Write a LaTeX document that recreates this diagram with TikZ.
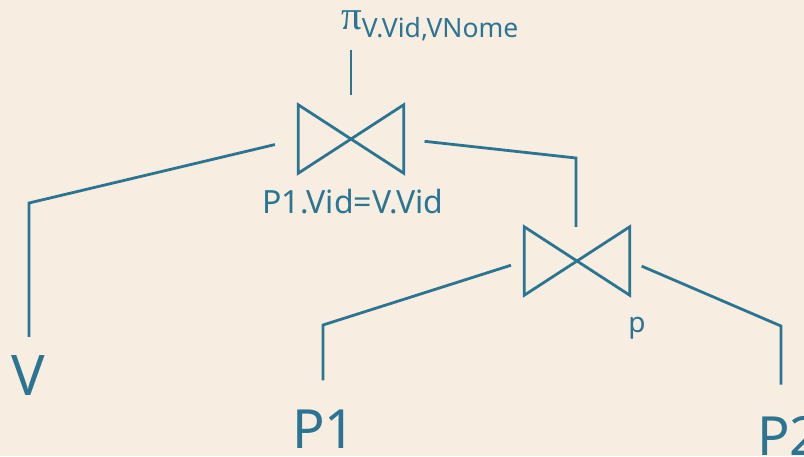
\documentclass[tikz,border=0pt]{standalone}
\usepackage{fontspec}
\setmainfont{Noto Sans}
\newfontfamily\greekfont{Liberation Serif}
\usetikzlibrary{positioning}
\definecolor{paper}{HTML}{F7EEE1}
\definecolor{ink}{HTML}{2B7593}

\begin{document}
\begin{tikzpicture}[
			x=1pt, y=-1pt,
			joinop/.style={minimum width=105pt, minimum height=68pt, inner sep=0pt},
			rel/.style={font=\fontsize{54}{54}\selectfont, text=ink, inner sep=0pt, anchor=base},
			cond/.style={font=\fontsize{32}{32}\selectfont, text=ink, inner sep=0pt, anchor=base},
			link/.style={draw=ink, line width=2.8pt}
			]
			\fill[paper] (0,0) rectangle (804,456);
			\useasboundingbox (0,0) rectangle (804,456);
			\clip (0,0) rectangle (804,456);
			
			\node[joinop] (j1) at (351,139) {};
			\node[joinop] (j2) at (577,261) {};
			\node[inner sep=0pt, anchor=base west, text=ink] (proj) at (341,29) {{\greekfont\fontsize{41}{41}\selectfont π}\raisebox{-8pt}{\fontsize{26.5}{26.5}\selectfont V.Vid,VNome}};
			\node[cond] (c1) at (353,213) {P1.Vid=V.Vid};
			\node[cond, font=\fontsize{28}{28}\selectfont] (c2) at (637,332) {p};
			\node[rel, font=\fontsize{56}{56}\selectfont] (v) at (28,395) {V};
			\node[rel] (p1) at (324,448) {P1};
			\node[rel, anchor=base west] (p2) at (757,455) {P2};
			
			\coordinate (kv) at (29,203);
			\coordinate (kj) at (576,158);
			\coordinate (kp1) at (323,325);
			\coordinate (kp2) at (781,326);
			
			\draw[link] (j1.north west) -- (j1.south east) -- (j1.north east) -- (j1.south west) -- cycle;
			\draw[link] (j2.north west) -- (j2.south east) -- (j2.north east) -- (j2.south west) -- cycle;
			
			\draw[link, shorten <=9pt, shorten >=10pt] (proj.south -| j1.north) -- (j1.north);
			\draw[link, shorten <=24pt, shorten >=18pt] (j1.west) -- (kv) -- (kv |- v.north);
			\draw[link, shorten <=21pt] (j1.east) -- (kj) -- (kj |- j2.north);
			\draw[link, shorten <=14pt, shorten >=29pt] (j2.west) -- (kp1) -- (kp1 |- p1.north);
			\draw[link, shorten <=13pt, shorten >=31pt] (j2.east) -- (kp2) -- (kp2 |- p2.north);
		\end{tikzpicture}
\end{document}
